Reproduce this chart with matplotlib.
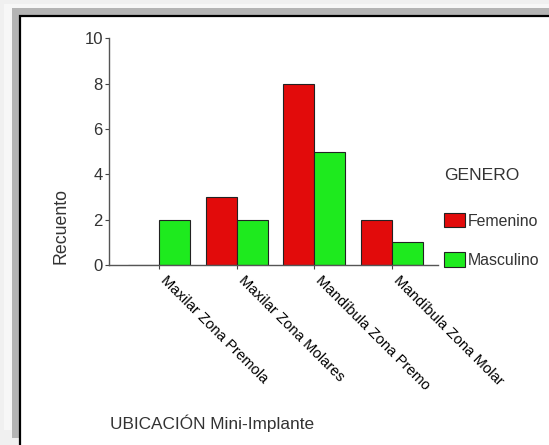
import matplotlib
matplotlib.use('Agg')
import matplotlib.pyplot as plt
import matplotlib.transforms as mtransforms
from matplotlib.patches import Rectangle
import numpy as np

plt.rcParams['font.family'] = ['Liberation Sans', 'DejaVu Sans']

categorias = ['Maxilar Zona Premola', 'Maxilar Zona Molares',
              'Mandíbula Zona Premo', 'Mandíbula Zona Molar']
femenino = [0, 3, 8, 2]
masculino = [2, 2, 5, 1]
series = ['Femenino', 'Masculino']
colores = ['#e20b0b', '#1eea1e']
y_ticks = [0, 2, 4, 6, 8, 10]

W, H = 549, 445
fig = plt.figure(figsize=(W / 100, H / 100), dpi=100, facecolor='#f0f0f0')


def px_rect(x0, y0, x1, y1, **kw):
    # rectangle given in image pixels (top-left origin)
    r = Rectangle((x0 / W, 1 - y1 / H), (x1 - x0) / W, (y1 - y0) / H,
                  transform=fig.transFigure, figure=fig, **kw)
    fig.patches.append(r)


# frame: shadow + white panel with black border
px_rect(4, 4, 549, 430, facecolor='#f7f7f7', edgecolor='none', zorder=0)
px_rect(12, 8, 549, 438, facecolor='#b4b4b4', edgecolor='none', zorder=0)
px_rect(20, 15.5, 560, 460, facecolor='white', edgecolor='black',
        linewidth=1.6, zorder=1)

ax = fig.add_axes([109 / W, 1 - 265 / H, (438 - 109) / W, (265 - 38.5) / H])
ax.set_facecolor('none')
ax.set_zorder(5)

x = np.arange(len(categorias))
w = 0.4
b1 = ax.bar(x - w / 2, femenino, w, color=colores[0], edgecolor='#222222',
            linewidth=0.8, label=series[0])
b2 = ax.bar(x + w / 2, masculino, w, color=colores[1], edgecolor='#222222',
            linewidth=0.8, label=series[1])

ax.set_xlim(-0.644, 3.595)
ax.set_ylim(0, 10)
ax.set_yticks(y_ticks)
ax.set_yticklabels([str(v) for v in y_ticks], fontsize=12, color='#333333')
ax.set_xticks(x)
ax.set_xticklabels(categorias, rotation=-45, ha='left', va='top',
                   rotation_mode='anchor', fontsize=10.6, color='black')
ax.tick_params(axis='both', length=3, width=0.8, color='#444444', pad=3)
ax.tick_params(axis='y', pad=1.5)
shift = mtransforms.ScaledTranslation(9 / 100, 0, fig.dpi_scale_trans)
for lab in ax.get_xticklabels():
    lab.set_transform(lab.get_transform() + shift)
for s in ['top', 'right']:
    ax.spines[s].set_visible(False)
for s in ['left', 'bottom']:
    ax.spines[s].set_color('#555555')
    ax.spines[s].set_linewidth(1.0)

t1 = fig.text(61 / W, 1 - 226 / H, 'Recuento', rotation=90, ha='center',
              va='center', fontsize=12.8, color='#333333')
t2 = fig.text(110 / W, 1 - 423 / H, 'UBICACIÓN Mini-Implante', ha='left',
              va='center', fontsize=12.4, color='#333333')
t1.set_zorder(6)
t2.set_zorder(6)

leg = ax.legend(handles=[b1, b2], title='GENERO', frameon=False,
                loc='upper left', bbox_to_anchor=(431 / W, 1 - 155 / H),
                bbox_transform=fig.transFigure, fontsize=11.4,
                title_fontsize=12.6, handlelength=1.35, handleheight=1.0,
                handletextpad=0.15, labelspacing=1.5, borderpad=0.3)
leg._legend_box.align = 'left'
leg.get_title().set_color('#333333')
for t in leg.get_texts():
    t.set_color('#333333')
leg._legend_box.sep = 22

fig.savefig('out.png', dpi=100, facecolor=fig.get_facecolor())
